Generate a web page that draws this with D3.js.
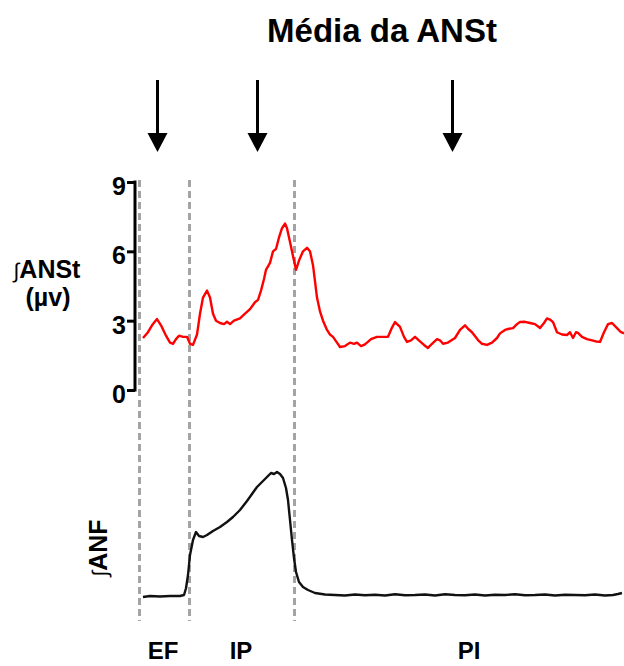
<!DOCTYPE html>
<html><head><meta charset="utf-8">
<script src="https://cdn.jsdelivr.net/npm/d3@7"></script>
<style>
html,body{margin:0;padding:0;background:#fff;}
svg{display:block;font-family:Arial,"Liberation Sans",sans-serif;}
</style></head>
<body><svg id="c" width="624" height="666"></svg>
<script>
// time in arbitrary units (0 = start of EF)
const ansTime = [4,9,13,18,22,27,31,34,37,40,44,48,51,54,58,61,64,68,71,74,77,81,85,88,91,95,101,106,111,116,119,122,125,127,131,134,137,140,143,146,148,151,154,157,160,164,168,171,174,178,181,184,188,191,194,198,201,206,211,215,218,222,225,228,232,238,244,249,253,256,261,265,268,272,276,281,285,289,293,298,301,304,309,316,321,326,329,333,339,343,348,353,358,361,366,370,374,378,381,386,391,396,401,405,408,411,414,418,423,428,431,434,437,439,443,448,453,457,461,465,469,473,478,482,485];
const ansValues = [2.25,2.5,2.8,3.07,2.8,2.35,2.05,2.0,2.2,2.35,2.3,2.3,2.0,1.95,2.4,3.3,4.0,4.3,4.0,3.3,3.0,2.9,2.85,2.95,2.85,3.0,3.1,3.3,3.5,3.8,3.9,4.3,4.8,5.2,5.5,6.0,6.1,6.6,7.0,7.2,7.0,6.4,5.8,5.2,5.6,6.0,6.15,6.0,5.4,4.0,3.4,3.0,2.6,2.4,2.3,2.05,1.86,1.9,2.05,2.0,2.05,1.9,1.95,2.05,2.2,2.3,2.3,2.3,2.7,2.94,2.73,2.3,2.08,2.15,2.3,2.1,1.95,1.82,2.0,2.2,2.15,2.0,2.05,2.25,2.6,2.8,2.65,2.5,2.16,2.0,1.95,2.05,2.25,2.45,2.6,2.65,2.68,2.85,2.94,2.95,2.9,2.85,2.68,2.9,3.1,3.05,2.94,2.5,2.4,2.38,2.5,2.25,2.5,2.47,2.3,2.2,2.15,2.1,2.08,2.5,2.85,2.9,2.68,2.5,2.45];
const anfTime = [4,11,21,31,41,45,47,49,51,54,57,60,64,68,74,81,88,94,101,108,113,118,124,129,132,135,138,141,144,147,149,151,153,155,157,160,164,169,176,186,196,206,216,226,236,246,256,266,276,286,296,306,316,326,336,346,356,366,376,386,396,406,416,426,436,446,456,466,474,479,483];
const anfValues = [0,0.8,0.4,0.8,0.8,1.6,7,17.6,33.6,45.6,52,48.8,48,49.6,52.8,56,60,64,69.6,76.8,82.4,88,92.8,96.8,99.2,98.4,100,98.4,95.2,87.2,77.6,61.6,45.6,31.2,20,12,8,5.6,3.2,2,1.6,1.2,2,1.4,1.8,1.2,2.2,1.4,1.6,2,1.2,2.2,1.6,1.4,2,1.2,1.8,1.6,2.2,1.4,1.6,2,1.2,1.8,1.6,1.4,2,1.2,1.6,2.4,3.2];
const phaseBounds = [0, 50, 155];
const phaseLabels = ["EF", "IP", "PI"];
const phaseLabelPos = [24, 102, 330];
const arrowPos = [18, 118, 313];
const yTicks = [0, 3, 6, 9];

const svg = d3.select("#c");
const x = d3.scaleLinear().domain([0, 485]).range([139, 624]);
const yA = d3.scaleLinear().domain([0, 9]).range([390, 182]);
const yF = d3.scaleLinear().domain([0, 100]).range([597, 472]);

// title
svg.append("text").attr("x", 382).attr("y", 42).attr("text-anchor", "middle")
  .attr("font-size", 33).attr("font-weight", "bold").text("Média da ANSt");

// arrows
const ag = svg.append("g");
arrowPos.forEach(t => {
  const cx = Math.round(x(t)) + 0.5;
  ag.append("line").attr("x1", cx).attr("x2", cx).attr("y1", 80).attr("y2", 136)
    .attr("stroke", "#000").attr("stroke-width", 3);
  ag.append("path").attr("d", `M${cx-10},133 L${cx+10},133 L${cx},152 Z`).attr("fill", "#000");
});

// dashed phase lines
svg.append("g").selectAll("line").data(phaseBounds).join("line")
  .attr("x1", d => x(d) + 0.5).attr("x2", d => x(d) + 0.5).attr("y1", 180).attr("y2", 621)
  .attr("stroke", "#a4a4a4").attr("stroke-width", 3).attr("stroke-dasharray", "7,4");

// y axis
const axis = svg.append("g").attr("transform", "translate(135,0)")
  .call(d3.axisLeft(yA).tickValues(yTicks).tickSize(8).tickSizeOuter(0).tickPadding(1));
axis.select(".domain").attr("stroke", "#000").attr("stroke-width", 3);
axis.selectAll(".tick line").attr("stroke", "#000").attr("stroke-width", 3);
axis.selectAll(".tick text").attr("font-size", 25).attr("font-weight", "bold")
  .attr("font-family", "Arial, 'Liberation Sans', sans-serif").attr("fill", "#000").attr("dy", "0.5em");
axis.select(".domain").attr("d", `M0,${yA(9)-1.5}V${yA(0)+1.5}`);

// ANSt label
const l1 = svg.append("text").attr("x", 47).attr("y", 278).attr("text-anchor", "middle")
  .attr("font-size", 25).attr("font-weight", "bold");
l1.append("tspan").attr("font-weight", "normal").attr("font-size", 21).text("∫");
l1.append("tspan").text("ANSt");
svg.append("text").attr("x", 48).attr("y", 306).attr("text-anchor", "middle")
  .attr("font-size", 25).attr("font-weight", "bold").text("(µv)");

// ANF label rotated
const l2 = svg.append("text").attr("transform", "translate(107,548) rotate(-90)")
  .attr("text-anchor", "middle").attr("font-size", 25).attr("font-weight", "bold");
l2.append("tspan").attr("font-weight", "normal").attr("font-size", 21).text("∫");
l2.append("tspan").text("ANF");

// traces
const lineA = d3.line().x((d, i) => x(ansTime[i])).y(d => yA(d));
svg.append("path").datum(ansValues).attr("d", lineA).attr("fill", "none")
  .attr("stroke", "#ff0000").attr("stroke-width", 2.4).attr("stroke-linejoin", "round");
const lineF = d3.line().x((d, i) => x(anfTime[i])).y(d => yF(d));
svg.append("path").datum(anfValues).attr("d", lineF).attr("fill", "none")
  .attr("stroke", "#111").attr("stroke-width", 2.4).attr("stroke-linejoin", "round");

// phase labels
svg.append("g").selectAll("text").data(phaseLabels).join("text")
  .attr("x", (d, i) => x(phaseLabelPos[i])).attr("y", 659).attr("text-anchor", "middle")
  .attr("font-size", 24).attr("font-weight", "bold").text(d => d);
</script></body></html>
